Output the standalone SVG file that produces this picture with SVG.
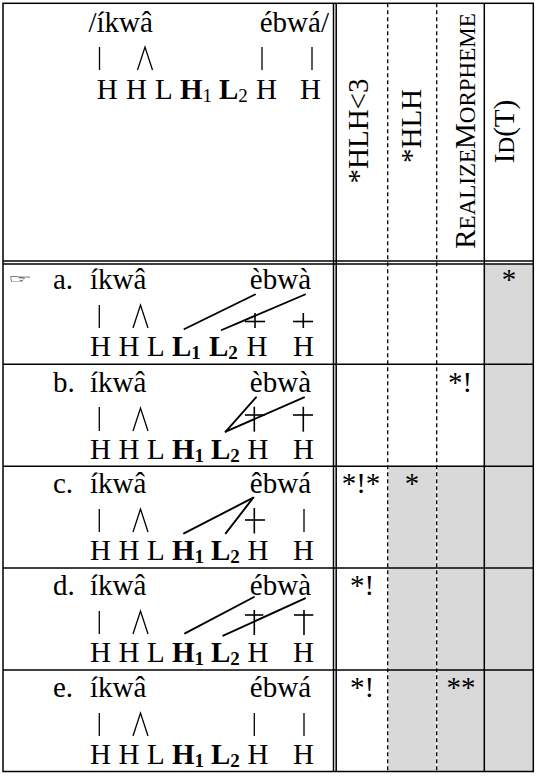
<svg xmlns="http://www.w3.org/2000/svg" width="538" height="777" viewBox="0 0 538 777">
<style>
text{font-family:"Liberation Serif","Times New Roman",serif;font-size:29px;fill:#000}
.b{font-weight:bold}
.sub{font-size:19px}
.end{text-anchor:end}
.mid{text-anchor:middle}
.sc{font-size:23px}
.grid{stroke:#000;stroke-width:1.5;fill:none}
.dash{stroke:#000;stroke-width:1.3;stroke-dasharray:4 3}
.gap{stroke:#fff;stroke-width:1.3}
.bar{stroke:#000;stroke-width:1.3;fill:none}
.assoc{stroke:#000;stroke-width:1.9;stroke-linecap:round}
.cross{stroke:#000;stroke-width:1.6}
.shade{fill:#d9d9d9}
.hand{font-family:"DejaVu Sans",sans-serif;font-size:27px;text-anchor:middle}
</style>
<defs>
<g id="fork"><polyline class="bar" points="-7.5,0 0,-23 7.5,0"/></g>
</defs>
<rect width="538" height="777" fill="#fff"/>
<g id="shading">
<rect class="shade" x="484" y="264" width="49.3" height="507.5"/>
<rect class="shade" x="387.7" y="466.3" width="96.6" height="305.2"/>
</g>
<g id="grid">
<line class="gap" x1="436.7" y1="466" x2="436.7" y2="771.5"/>
<line class="gap" x1="387.7" y1="466" x2="387.7" y2="771.5"/>
<line class="dash" x1="387.7" y1="3.3" x2="387.7" y2="771.5"/>
<line class="dash" x1="436.7" y1="3.3" x2="436.7" y2="771.5"/>
<line class="grid" x1="484.3" y1="3.3" x2="484.3" y2="771.5"/>
<line class="grid" x1="333.5" y1="3.3" x2="333.5" y2="771.5"/>
<line class="grid" x1="336.2" y1="3.3" x2="336.2" y2="771.5"/>
<line class="grid" x1="3" y1="261" x2="533.3" y2="261"/>
<line class="grid" x1="3" y1="264" x2="533.3" y2="264"/>
<line class="grid" x1="3" y1="364.3" x2="533.3" y2="364.3"/>
<line class="grid" x1="3" y1="466.3" x2="533.3" y2="466.3"/>
<line class="grid" x1="3" y1="568" x2="533.3" y2="568"/>
<line class="grid" x1="3" y1="670" x2="533.3" y2="670"/>
<rect class="grid" x="3" y="3.3" width="530.3" height="768.2"/>
</g>
<g id="constraints">
<text transform="translate(368,131) rotate(-90)" class="mid">*HLH&lt;3</text>
<text transform="translate(421,126) rotate(-90)" class="mid">*HLH</text>
<text transform="translate(475,131) rotate(-90)" class="mid">R<tspan class="sc">EALIZE</tspan>M<tspan class="sc">ORPHEME</tspan></text>
<text transform="translate(514,131.5) rotate(-90)" class="mid">I<tspan class="sc">D</tspan>(T)</text>
</g>
<g id="input">
<text x="88.5" y="32">/íkwâ</text>
<text x="329" y="32" class="end">ébwá/</text>
<line class="bar" x1="99.5" y1="47" x2="99.5" y2="70"/>
<use href="#fork" x="145" y="70"/>
<line class="bar" x1="262" y1="47" x2="262" y2="70"/>
<line class="bar" x1="312" y1="47" x2="312" y2="70"/>
<text x="96.7" y="99">H</text>
<text x="126" y="99">H</text>
<text x="155" y="99">L</text>
<text x="180" y="99"><tspan class="b">H</tspan><tspan class="sub" dy="3">1</tspan></text>
<text x="219" y="99"><tspan class="b">L</tspan><tspan class="sub" dy="3">2</tspan></text>
<text x="256" y="99">H</text>
<text x="300" y="99">H</text>
</g>
<g id="cand-a">
<text class="hand" x="20" y="283" transform="translate(20,283) scale(1,0.45) translate(-20,-283)">☞</text>
<text x="53" y="289">a.</text>
<text x="90" y="289">íkwâ</text>
<text x="311" y="289" class="end">èbwà</text>
<line class="bar" x1="99.3" y1="305" x2="99.3" y2="328"/>
<use href="#fork" x="140.5" y="328"/>
<text x="90" y="356">H</text>
<text x="118.5" y="356">H</text>
<text x="147" y="356">L</text>
<text x="172" y="356"><tspan class="b">L</tspan><tspan class="sub b" dy="3">1</tspan></text>
<text x="209" y="356"><tspan class="b">L</tspan><tspan class="sub b" dy="3">2</tspan></text>
<text x="246.5" y="356">H</text>
<text x="293" y="356">H</text>
<text x="509" y="289" class="mid">*</text>
</g>
<g id="cand-b">
<text x="53" y="392">b.</text>
<text x="90" y="392">íkwâ</text>
<text x="311" y="392" class="end">èbwà</text>
<line class="bar" x1="99.3" y1="407" x2="99.3" y2="431"/>
<use href="#fork" x="140.5" y="431"/>
<text x="90" y="459">H</text>
<text x="118.5" y="459">H</text>
<text x="147" y="459">L</text>
<text x="172" y="459"><tspan class="b">H</tspan><tspan class="sub b" dy="3">1</tspan></text>
<text x="211" y="459"><tspan class="b">L</tspan><tspan class="sub b" dy="3">2</tspan></text>
<text x="247.5" y="459">H</text>
<text x="293" y="459">H</text>
<text x="460" y="392" class="mid">*!</text>
</g>
<g id="cand-c">
<text x="53" y="493">c.</text>
<text x="90" y="493">íkwâ</text>
<text x="311" y="493" class="end">êbwá</text>
<line class="bar" x1="99.3" y1="509" x2="99.3" y2="532"/>
<use href="#fork" x="140.5" y="532"/>
<line class="bar" x1="304" y1="509" x2="304" y2="532"/>
<text x="90" y="560">H</text>
<text x="118.5" y="560">H</text>
<text x="147" y="560">L</text>
<text x="172" y="560"><tspan class="b">H</tspan><tspan class="sub b" dy="3">1</tspan></text>
<text x="211" y="560"><tspan class="b">L</tspan><tspan class="sub b" dy="3">2</tspan></text>
<text x="247.5" y="560">H</text>
<text x="293" y="560">H</text>
<text x="361" y="493" class="mid">*!*</text>
<text x="412" y="493" class="mid">*</text>
</g>
<g id="cand-d">
<text x="53" y="595">d.</text>
<text x="90" y="595">íkwâ</text>
<text x="311" y="595" class="end">ébwà</text>
<line class="bar" x1="99.3" y1="611" x2="99.3" y2="634"/>
<use href="#fork" x="140.5" y="634"/>
<text x="90" y="662">H</text>
<text x="118.5" y="662">H</text>
<text x="147" y="662">L</text>
<text x="172" y="662"><tspan class="b">H</tspan><tspan class="sub b" dy="3">1</tspan></text>
<text x="211" y="662"><tspan class="b">L</tspan><tspan class="sub b" dy="3">2</tspan></text>
<text x="247.5" y="662">H</text>
<text x="293" y="662">H</text>
<text x="362" y="595" class="mid">*!</text>
</g>
<g id="cand-e">
<text x="53" y="697">e.</text>
<text x="90" y="697">íkwâ</text>
<text x="311" y="697" class="end">ébwá</text>
<line class="bar" x1="99.3" y1="713" x2="99.3" y2="736"/>
<use href="#fork" x="140.5" y="736"/>
<line class="bar" x1="254.3" y1="713" x2="254.3" y2="736"/>
<line class="bar" x1="304" y1="713" x2="304" y2="736"/>
<text x="90" y="764">H</text>
<text x="118.5" y="764">H</text>
<text x="147" y="764">L</text>
<text x="172" y="764"><tspan class="b">H</tspan><tspan class="sub b" dy="3">1</tspan></text>
<text x="211" y="764"><tspan class="b">L</tspan><tspan class="sub b" dy="3">2</tspan></text>
<text x="247.5" y="764">H</text>
<text x="293" y="764">H</text>
<text x="362" y="697" class="mid">*!</text>
<text x="461" y="697" class="mid">**</text>
</g>
<g id="connectors">
<line class="assoc" x1="184.5" y1="329" x2="255" y2="294.5"/>
<line class="assoc" x1="221.7" y1="330" x2="305" y2="294.5"/>
<line class="cross" x1="255" y1="313" x2="255" y2="328"/>
<line class="cross" x1="245" y1="321.5" x2="265" y2="321.5"/>
<line class="cross" x1="303.3" y1="313" x2="303.3" y2="328"/>
<line class="cross" x1="293" y1="321.5" x2="313" y2="321.5"/>
<line class="assoc" x1="225.7" y1="431.7" x2="256" y2="397.3"/>
<line class="assoc" x1="225.7" y1="431.7" x2="304" y2="397.3"/>
<line class="cross" x1="254.3" y1="406.7" x2="254.3" y2="431.7"/>
<line class="cross" x1="245" y1="415" x2="265" y2="415"/>
<line class="cross" x1="303.3" y1="406.7" x2="303.3" y2="431.7"/>
<line class="cross" x1="293" y1="415" x2="313" y2="415"/>
<line class="assoc" x1="184" y1="533.3" x2="253.3" y2="497.7"/>
<line class="assoc" x1="225.7" y1="533.3" x2="253.3" y2="497.7"/>
<line class="cross" x1="254.3" y1="508" x2="254.3" y2="533.5"/>
<line class="cross" x1="245" y1="520" x2="265" y2="520"/>
<line class="assoc" x1="185" y1="633.3" x2="254" y2="597"/>
<line class="assoc" x1="223.3" y1="635.7" x2="305" y2="598.3"/>
<line class="cross" x1="254.3" y1="610" x2="254.3" y2="635"/>
<line class="cross" x1="245" y1="615" x2="263.3" y2="615"/>
<line class="cross" x1="304" y1="610" x2="304" y2="635"/>
<line class="cross" x1="294" y1="615" x2="313.3" y2="615"/>
</g>
</svg>
